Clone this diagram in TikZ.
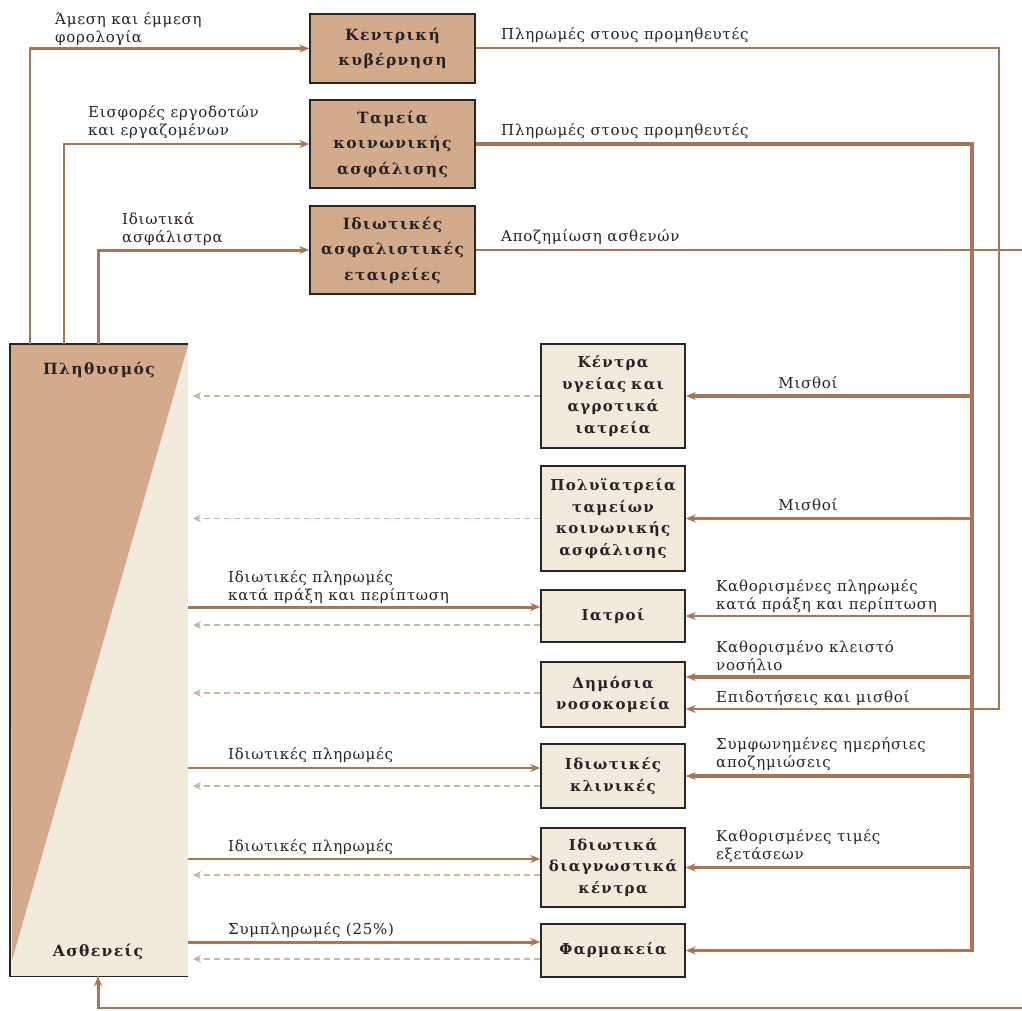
\documentclass[tikz,border=0pt]{standalone}
\usepackage{fontspec}
\setmainfont{DejaVu Serif}
\newfontfamily\lblfont[LetterSpace=5]{DejaVu Serif}
\newfontfamily\boxfont[LetterSpace=9]{DejaVu Serif}
\usetikzlibrary{arrows.meta,calc}
\definecolor{boxdark}{RGB}{210,170,140}
\definecolor{boxlight}{RGB}{243,234,222}
\definecolor{flow}{RGB}{166,118,86}
\definecolor{dashc}{RGB}{204,182,166}
\definecolor{txt}{RGB}{40,35,33}
\tikzset{
  boxbase/.style={draw=black!85, line width=1.5pt, align=center, inner sep=0pt, text=txt,
     font=\boxfont\bfseries\fontsize{15.5}{25.5}\selectfont},
  topbox/.style={boxbase, fill=boxdark, minimum width=165pt, text width=160pt},
  lowbox/.style={boxbase, fill=boxlight, minimum width=144pt, text width=142pt,
     font=\boxfont\bfseries\fontsize{15}{21.8}\selectfont},
  lbl/.style={font=\lblfont\fontsize{15}{18.5}\selectfont, text=txt, inner sep=0pt, align=left, anchor=west},
  tipa/.style={-{Stealth[length=10pt,width=8pt]}},
  fthin/.style={draw=flow, line width=1.6pt},
  fmid/.style={draw=flow, line width=2.3pt},
  fthick/.style={draw=flow, line width=3.4pt},
  dashflow/.style={draw=dashc, line width=1.6pt, dash pattern=on 6pt off 4pt, -{Stealth[length=8pt,width=8pt]}},
}
\begin{document}
\begin{tikzpicture}[x=1pt,y=-1pt]
\useasboundingbox (0,0) rectangle (1022,1011);
\fill[white] (0,0) rectangle (1022,1011);

% population box
\node[minimum width=178pt, minimum height=632pt, inner sep=0pt, anchor=north west] (pop) at (10,344) {};
\fill[boxlight] (pop.north west) rectangle (pop.south east);
\fill[boxdark] (pop.north west) -- (pop.north east) -- ($(pop.south west)+(2,-16)$) -- cycle;
\draw[black!85, line width=1.5pt] (pop.north east) -- (pop.north west) -- (pop.south west) -- (pop.south east);
\node[font=\boxfont\bfseries\fontsize{15.5}{16}\selectfont, text=txt] (popl) at (99,370) {Πληθυσμός};
\node[font=\boxfont\bfseries\fontsize{15.5}{16}\selectfont, text=txt] (patl) at (98,952) {Ασθενείς};

% top boxes
\node[topbox, minimum height=69pt] (gov) at (392.5,48.5) {Κεντρική\\κυβέρνηση};
\node[topbox, minimum height=88pt] (soc) at (392.5,144) {Ταμεία\\κοινωνικής\\ασφάλισης};
\node[topbox, minimum height=88pt] (priv) at (392.5,250) {Ιδιωτικές\\ασφαλιστικές\\εταιρείες};

% lower boxes
\node[lowbox, minimum height=104pt] (kentra) at (613,396) {Κέντρα\\υγείας και\\αγροτικά\\ιατρεία};
\node[lowbox, minimum height=105pt] (poly) at (613,518.5) {Πολυϊατρεία\\ταμείων\\κοινωνικής\\ασφάλισης};
\node[lowbox, minimum height=52pt] (iatroi) at (613,616) {Ιατροί};
\node[lowbox, minimum height=65pt] (dimosia) at (613,694.5) {Δημόσια\\νοσοκομεία};
\node[lowbox, minimum height=64pt] (klin) at (613,776) {Ιδιωτικές\\κλινικές};
\node[lowbox, minimum height=79pt] (diag) at (613,867.5) {Ιδιωτικά\\διαγνωστικά\\κέντρα};
\node[lowbox, minimum height=53pt] (farm) at (613,950.5) {Φαρμακεία};

% financing from population
\draw[fmid, tipa] ([xshift=20pt]pop.north west) |- (gov.west);
\draw[fthin, tipa] ([xshift=54pt]pop.north west) |- (soc.west);
\draw[fthick, line width=3pt, tipa] ([xshift=88pt]pop.north west) |- (priv.west);

\node[lbl] (l1) at (55,29) {Άμεση και έμμεση\\φορολογία};
\node[lbl] (l2) at (88,122) {Εισφορές εργοδοτών\\και εργαζομένων};
\node[lbl] (l3) at (122,229) {Ιδιωτικά\\ασφάλιστρα};

% payments out of top boxes
\coordinate (busA) at (999,0);
\coordinate (busB) at (972,0);
\path ($(dimosia.east)+(0,14.5)$) coordinate (dimLow);
\path ($(dimosia.east)+(0,-17.5)$) coordinate (dimUp);
\draw[fmid, line width=2pt, tipa] (gov.east) -| (busA |- dimLow) -- (dimLow);
\draw[fthick, tipa] (soc.east) -| (busB |- farm.east) -- (farm.east);
\draw[fthin] (priv.east) -| (1040,1008) -| ([xshift=88pt]pop.south west);
\draw[fthick, line width=3pt, tipa] (98,1008) -- ([xshift=88pt]pop.south west);

\node[lbl] (r1) at (501,35) {Πληρωμές στους προμηθευτές};
\node[lbl] (r2) at (501,131) {Πληρωμές στους προμηθευτές};
\node[lbl] (r3) at (501,237) {Αποζημίωση ασθενών};

% branches to providers
\draw[fthick, tipa] (busB |- kentra.east) -- (kentra.east);
\draw[fthick, tipa] (busB |- poly.east) -- (poly.east);
\draw[fthin, tipa] (busB |- iatroi.east) -- (iatroi.east);
\draw[fthick, tipa] (busB |- dimUp) -- (dimUp);
\draw[fthick, tipa] (busB |- klin.east) -- (klin.east);
\draw[fmid, tipa] (busB |- diag.east) -- (diag.east);

\node[lbl, anchor=center] (m1) at (808,383) {Μισθοί};
\node[lbl, anchor=center] (m2) at (808,505) {Μισθοί};
\node[lbl] (m3) at (716,596) {Καθορισμένες πληρωμές\\κατά πράξη και περίπτωση};
\node[lbl] (m4) at (716,657) {Καθορισμένο κλειστό\\νοσήλιο};
\node[lbl] (m5) at (716,698) {Επιδοτήσεις και μισθοί};
\node[lbl] (m6) at (716,754) {Συμφωνημένες ημερήσιες\\αποζημιώσεις};
\node[lbl] (m7) at (716,846) {Καθορισμένες τιμές\\εξετάσεων};

% private payments from patients
\path ($(iatroi.west)+(0,-9)$) coordinate (iaIn);
\path ($(klin.west)+(0,-8)$) coordinate (klIn);
\path ($(diag.west)+(0,-8.5)$) coordinate (diIn);
\path ($(farm.west)+(0,-8.5)$) coordinate (faIn);
\draw[fthick, line width=3pt, tipa] (pop.east |- iaIn) -- (iaIn);
\draw[fthin, tipa] (pop.east |- klIn) -- (klIn);
\draw[fthin, tipa] (pop.east |- diIn) -- (diIn);
\draw[fthick, line width=3pt, tipa] (pop.east |- faIn) -- (faIn);

\node[lbl] (p1) at (228,587) {Ιδιωτικές πληρωμές\\κατά πράξη και περίπτωση};
\node[lbl] (p2) at (228,755) {Ιδιωτικές πληρωμές};
\node[lbl] (p3) at (228,847) {Ιδιωτικές πληρωμές};
\node[lbl] (p4) at (228,930) {Συμπληρωμές (25\%)};

% services (dashed) back to population
\coordinate (popR) at (193,0);
\draw[dashflow] (kentra.west) -- (popR |- kentra.west);
\draw[dashflow] (poly.west) -- (popR |- poly.west);
\path ($(iatroi.west)+(0,9)$) coordinate (iaOut);
\path ($(dimosia.west)+(0,-1.5)$) coordinate (dmOut);
\path ($(klin.west)+(0,10)$) coordinate (klOut);
\path ($(diag.west)+(0,7.5)$) coordinate (diOut);
\path ($(farm.west)+(0,8.5)$) coordinate (faOut);
\draw[dashflow] (iaOut) -- (popR |- iaOut);
\draw[dashflow] (dmOut) -- (popR |- dmOut);
\draw[dashflow] (klOut) -- (popR |- klOut);
\draw[dashflow] (diOut) -- (popR |- diOut);
\draw[dashflow] (faOut) -- (popR |- faOut);
\end{tikzpicture}
\end{document}
